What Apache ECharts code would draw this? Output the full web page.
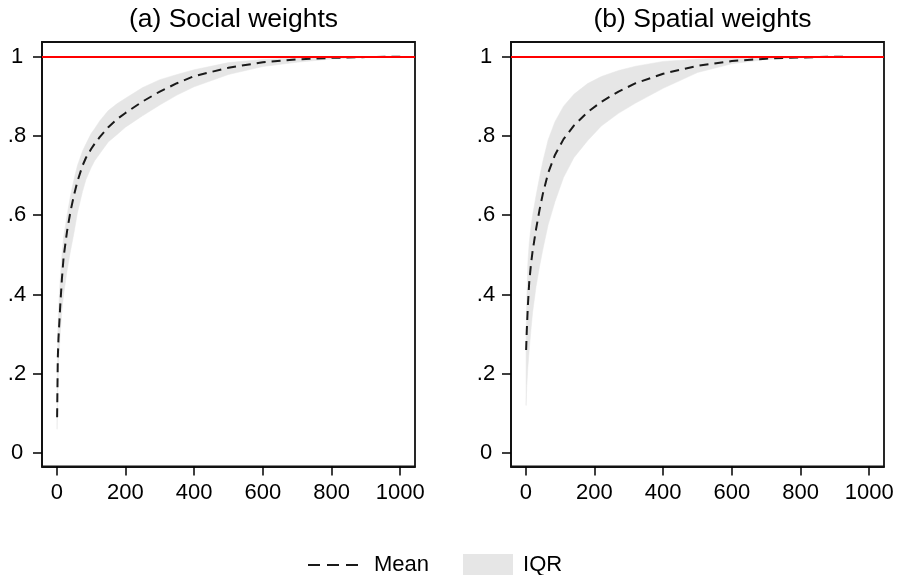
<!DOCTYPE html>
<html>
<head>
<meta charset="utf-8">
<script src="https://cdn.jsdelivr.net/npm/echarts@6/dist/echarts.min.js"></script>
<style>
  html, body { margin: 0; padding: 0; background: #fff; }
  #chart { width: 898px; height: 575px; }
</style>
</head>
<body>
<div id="chart"></div>
<script>
// (a) social weights
const xA = [1, 3, 5, 10, 15, 20, 30, 40, 50, 60, 75, 85, 100, 110, 125, 150, 175, 200, 250, 300, 350, 400, 500, 600, 700, 800, 900, 1000];
const meanA = [0.09, 0.24, 0.29, 0.37, 0.44, 0.495, 0.56, 0.61, 0.65, 0.685, 0.725, 0.745, 0.767, 0.78, 0.797, 0.822, 0.842, 0.858, 0.887, 0.912, 0.933, 0.951, 0.972, 0.986, 0.993, 0.997, 0.999, 1.0];
const lowerA = [0.06, 0.16, 0.22, 0.30, 0.36, 0.40, 0.46, 0.51, 0.555, 0.605, 0.66, 0.69, 0.72, 0.737, 0.755, 0.785, 0.803, 0.822, 0.851, 0.878, 0.903, 0.924, 0.955, 0.975, 0.986, 0.994, 0.998, 1.0];
const upperA = [0.12, 0.30, 0.36, 0.44, 0.50, 0.545, 0.60, 0.65, 0.69, 0.725, 0.762, 0.78, 0.806, 0.818, 0.838, 0.864, 0.881, 0.895, 0.922, 0.942, 0.955, 0.967, 0.985, 0.993, 0.997, 0.999, 1.0, 1.0];

// (b) spatial weights
const xB = [1, 3, 6, 10, 15, 20, 30, 40, 50, 65, 85, 110, 140, 180, 220, 270, 320, 400, 500, 600, 700, 800, 900, 940];
const meanB = [0.26, 0.31, 0.37, 0.43, 0.475, 0.51, 0.565, 0.613, 0.655, 0.706, 0.752, 0.792, 0.826, 0.86, 0.886, 0.912, 0.933, 0.957, 0.977, 0.989, 0.995, 0.998, 1.0, 1.0];
const lowerB = [0.12, 0.17, 0.215, 0.26, 0.31, 0.355, 0.42, 0.47, 0.515, 0.575, 0.634, 0.695, 0.745, 0.788, 0.825, 0.857, 0.883, 0.92, 0.96, 0.982, 0.993, 0.997, 0.999, 1.0];
const upperB = [0.30, 0.39, 0.48, 0.53, 0.57, 0.60, 0.65, 0.695, 0.737, 0.79, 0.836, 0.875, 0.905, 0.932, 0.95, 0.965, 0.976, 0.988, 0.994, 0.997, 0.999, 1.0, 1.0, 1.0];

const titles = ['(a) Social weights', '(b) Spatial weights'];
const xTicks = [0, 200, 400, 600, 800, 1000];
const yTicks = [0, 0.2, 0.4, 0.6, 0.8, 1];
const yTickLabels = ['0', '.2', '.4', '.6', '.8', '1'];

const font = 'Liberation Sans, Arial, sans-serif';
const bandColor = '#e6e6e6';

const chart = echarts.init(document.getElementById('chart'), null, { renderer: 'canvas' });

// draws the whole IQR band as one polygon: upper edge forward, lower edge back
function renderBand(params, api) {
  if (params.dataIndexInside !== 0) return;
  const n = params.dataInsideLength;
  const top = [], bottom = [];
  for (let j = 0; j < n; j++) {
    const x = api.value(0, j);
    top.push(api.coord([x, api.value(2, j)]));
    bottom.push(api.coord([x, api.value(1, j)]));
  }
  return {
    type: 'polygon',
    shape: { points: top.concat(bottom.reverse()) },
    style: { fill: bandColor, stroke: bandColor, lineWidth: 0.5 }
  };
}

function panel(i, xs, mean, lower, upper) {
  return [
    {
      name: 'IQR',
      type: 'custom',
      xAxisIndex: i,
      yAxisIndex: i,
      renderItem: renderBand,
      itemStyle: { color: bandColor },
      encode: { x: 0, y: [1, 2] },
      data: xs.map((x, k) => [x, lower[k], upper[k]]),
      clip: true,
      z: 1
    },
    {
      name: 'redline' + i,
      type: 'line',
      xAxisIndex: i,
      yAxisIndex: i,
      symbol: 'none',
      data: [],
      markLine: {
        silent: true,
        symbol: 'none',
        label: { show: false },
        lineStyle: { color: '#ff0000', type: 'solid', width: 1.8 },
        data: [{ yAxis: 1 }]
      },
      z: 2
    },
    {
      name: 'Mean',
      type: 'line',
      xAxisIndex: i,
      yAxisIndex: i,
      symbol: 'none',
      itemStyle: { color: '#1a1a1a' },
      lineStyle: { color: '#1a1a1a', width: 2, type: [9, 6] },
      data: xs.map((x, k) => [x, mean[k]]),
      z: 3
    }
  ];
}

const grids = [42, 511].map(left => ({
  left: left,
  top: 42,
  width: 373,
  height: 424.5,
  show: true,
  borderColor: '#111',
  borderWidth: 1.8
}));

const axisLine = { show: true, onZero: false, lineStyle: { color: '#111', width: 1.8 } };

const xAxes = [0, 1].map(i => ({
  type: 'value',
  gridIndex: i,
  min: -43,
  max: 1043,
  axisLine: axisLine,
  splitLine: { show: false },
  axisTick: { show: true, inside: false, length: 9, lineStyle: { color: '#000', width: 1.5 }, customValues: xTicks },
  axisLabel: {
    customValues: xTicks,
    fontSize: 22,
    color: '#000',
    fontFamily: font,
    margin: 15,
    formatter: v => String(v)
  }
}));

const yAxes = [0, 1].map(i => ({
  type: 'value',
  gridIndex: i,
  min: -0.034,
  max: 1.037,
  axisLine: axisLine,
  splitLine: { show: false },
  axisTick: { show: true, inside: false, length: 9, lineStyle: { color: '#000', width: 1.5 }, customValues: yTicks },
  axisLabel: {
    customValues: yTicks,
    fontSize: 22,
    color: '#000',
    fontFamily: font,
    align: 'center',
    margin: 25,
    formatter: v => yTickLabels[yTicks.findIndex(t => Math.abs(t - v) < 1e-6)]
  }
}));

const option = {
  animation: false,
  backgroundColor: '#fff',
  title: titles.map((t, i) => ({
    text: t,
    left: i === 0 ? 228.5 : 697.5,
    top: 1,
    textAlign: 'center',
    textStyle: { fontSize: 26.5, fontWeight: 'normal', color: '#000', fontFamily: font }
  })),
  legend: {
    left: 307,
    top: 554,
    padding: 0,
    itemWidth: 50,
    itemHeight: 22,
    itemGap: 34,
    textStyle: { fontSize: 22, color: '#000', fontFamily: font },
    data: [
      {
        name: 'Mean',
        itemStyle: { opacity: 0 },
        lineStyle: { color: '#1a1a1a', width: 2, type: [12, 7] },
        textStyle: { padding: [0, 0, 0, 11] }
      },
      { name: 'IQR', icon: 'rect', itemStyle: { color: bandColor }, textStyle: { padding: [0, 0, 0, 5] } }
    ]
  },
  grid: grids,
  xAxis: xAxes,
  yAxis: yAxes,
  series: [].concat(
    panel(0, xA, meanA, lowerA, upperA),
    panel(1, xB, meanB, lowerB, upperB)
  )
};

chart.setOption(option);
</script>
</body>
</html>
